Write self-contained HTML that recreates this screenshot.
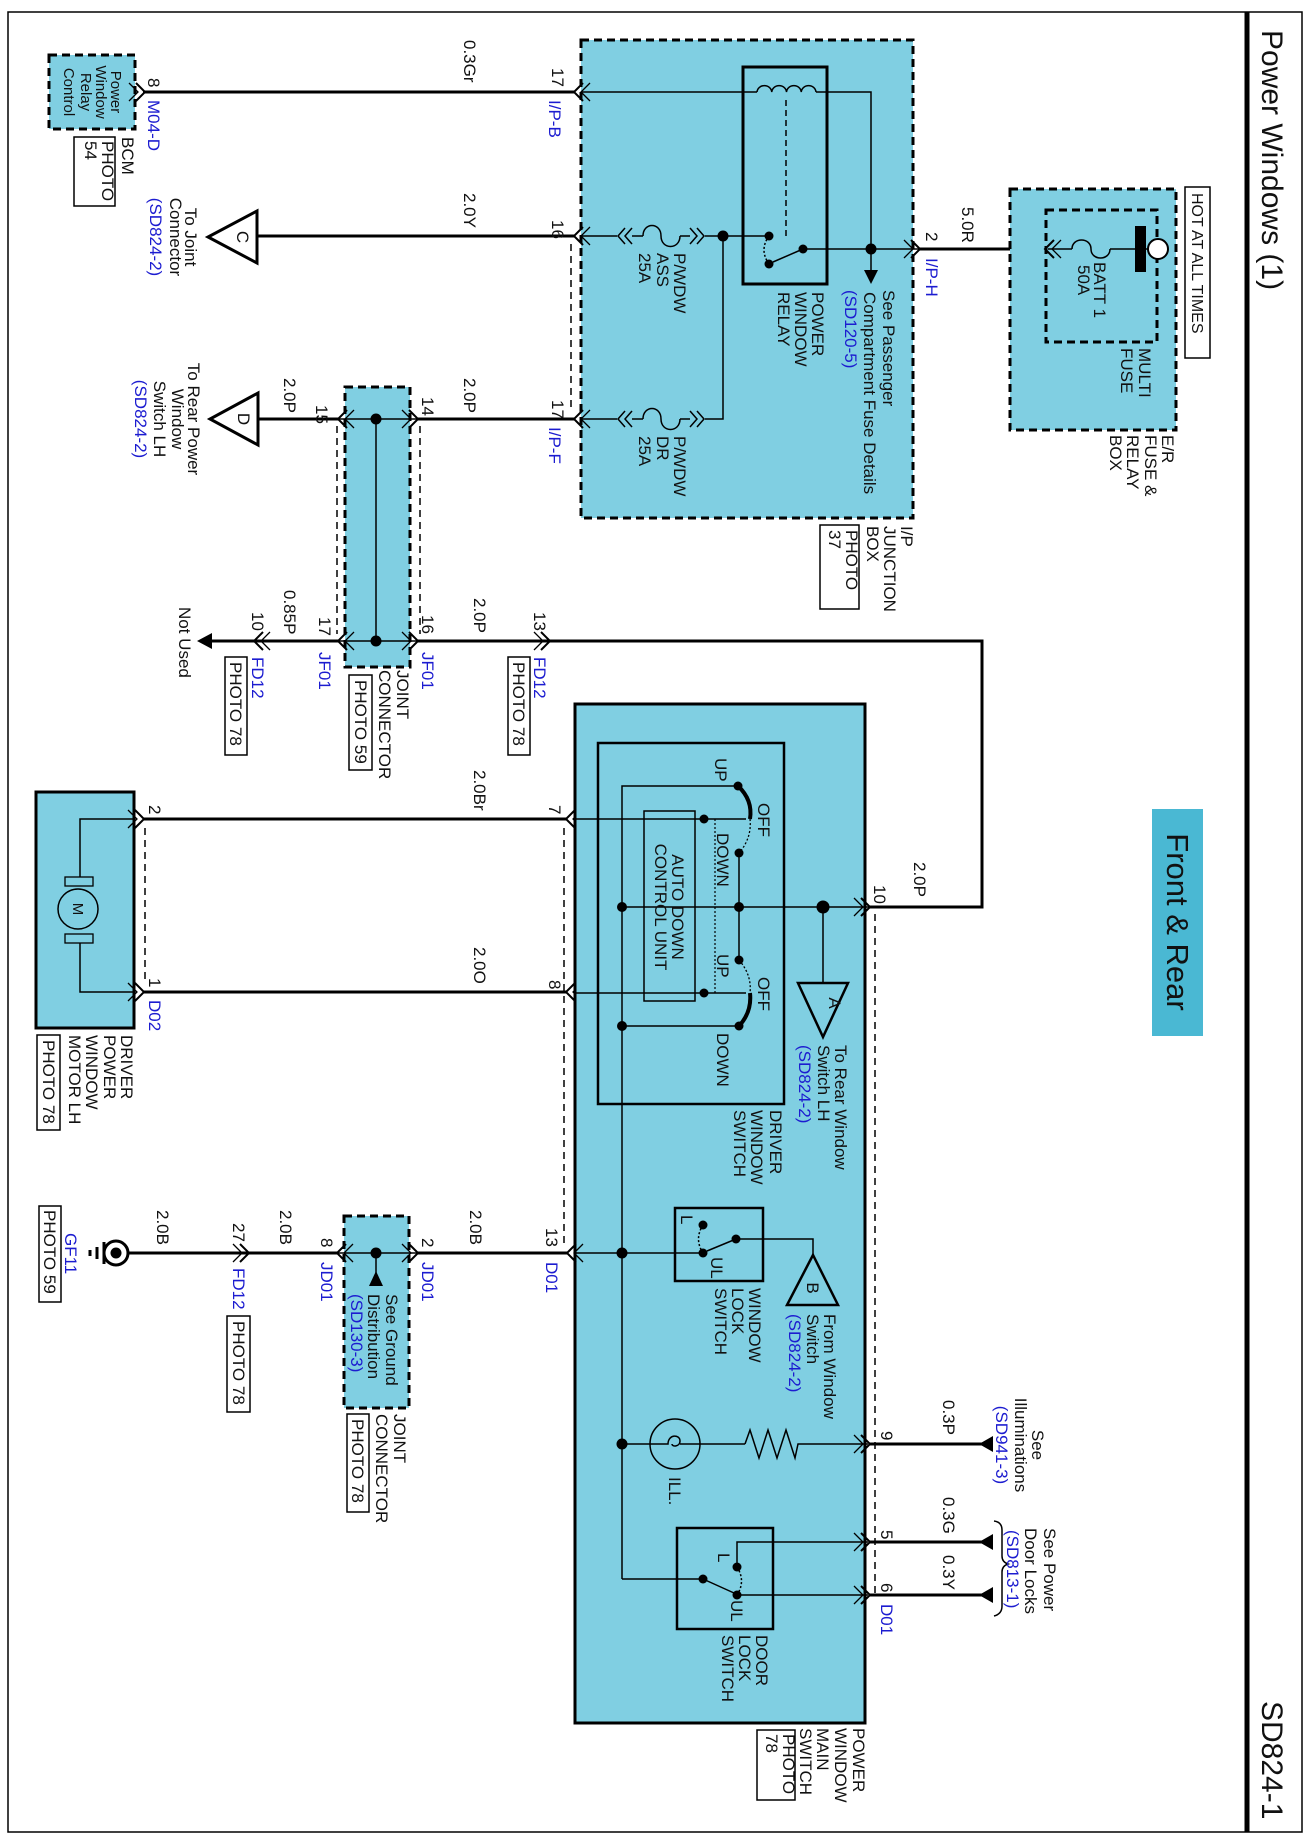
<!DOCTYPE html>
<html><head><meta charset="utf-8"><style>
html,body{margin:0;padding:0;background:#fff}
svg{display:block}
text{font-family:"Liberation Sans",Arial,sans-serif;font-size:17px;fill:#111}
.b{fill:#1c1cd0}
.s{font-size:15px}
.w{stroke:#000;stroke-width:3;fill:none}
.l{stroke:#000;stroke-width:1.5;fill:none}
.d{stroke:#000;stroke-width:3;stroke-dasharray:8 5}
.fl{fill:#80cfe2}
</style></head><body>
<svg width="1314" height="1839" viewBox="0 0 1314 1839" xmlns="http://www.w3.org/2000/svg">
<defs>
<g id="cl"><polyline points="9,-9 0,0 9,9" fill="none" stroke="#000" stroke-width="2"/><polyline points="16,-9 7,0 16,9" fill="none" stroke="#000" stroke-width="1.3"/></g>
<g id="cr"><polyline points="-9,-9 0,0 -9,9" fill="none" stroke="#000" stroke-width="2"/><polyline points="-16,-9 -7,0 -16,9" fill="none" stroke="#000" stroke-width="1.3"/></g>
</defs>
<rect x="0" y="0" width="1314" height="1839" fill="#fff"/>
<rect x="8" y="12" width="1294" height="1820" fill="none" stroke="#000" stroke-width="1.5"/>
<line x1="1247" y1="12" x2="1247" y2="1832" stroke="#000" stroke-width="5"/>
<text style="font-size:30px" transform="translate(1262,30) rotate(90)">Power Windows (1)</text>
<text style="font-size:30px" transform="translate(1262,1701) rotate(90)">SD824-1</text>

<!-- Front & Rear -->
<rect x="1152" y="809" width="51" height="227" fill="#4ab8d3"/>
<text style="font-size:31px" text-anchor="middle" transform="translate(1167,922) rotate(90)">Front &amp; Rear</text>

<!-- E/R box -->
<rect x="1010" y="189" width="166" height="241" class="fl d"/>
<rect x="1046" y="210" width="111" height="132" fill="none" class="d" stroke-width="2.5"/>
<line x1="1048" y1="249" x2="1072" y2="249" class="l"/>
<path d="M1072 249 C1072 237 1091 237 1091 249 C1091 261 1110 261 1110 249" class="l"/>
<line x1="1110" y1="249" x2="1150" y2="249" class="l"/>
<rect x="1135" y="226" width="11" height="46" fill="#000"/>
<circle cx="1158" cy="249" r="10" fill="#fff" stroke="#000" stroke-width="2"/>
<use href="#cl" x="1045" y="249"/>
<text transform="translate(1094,262) rotate(90)">BATT 1</text>
<text transform="translate(1078,265) rotate(90)">50A</text>
<text transform="translate(1139,348) rotate(90)">MULTI</text>
<text transform="translate(1121,348) rotate(90)">FUSE</text>
<rect x="1185" y="187" width="25" height="171" fill="#fff" stroke="#000" stroke-width="1.5"/>
<text style="font-size:16px" transform="translate(1192,193) rotate(90)">HOT AT ALL TIMES</text>
<text transform="translate(1162,435) rotate(90)">E/R</text>
<text transform="translate(1145,435) rotate(90)">FUSE &amp;</text>
<text transform="translate(1127,435) rotate(90)">RELAY</text>
<text transform="translate(1110,435) rotate(90)">BOX</text>

<line x1="918" y1="249" x2="1010" y2="249" class="w"/>
<text transform="translate(962,207) rotate(90)">5.0R</text>
<text transform="translate(926,232) rotate(90)">2</text>
<text class="b" transform="translate(926,258) rotate(90)">I/P-H</text>

<!-- I/P junction box -->
<rect x="581" y="40" width="332" height="478" class="fl d"/>
<rect x="743" y="67" width="84" height="217" fill="none" stroke="#000" stroke-width="3"/>
<line x1="581" y1="92" x2="757" y2="92" class="l"/>
<path d="M757 92 a7.4 7 0 0 1 14.75 0 a7.4 7 0 0 1 14.75 0 a7.4 7 0 0 1 14.75 0 a7.4 7 0 0 1 14.75 0" class="l"/>
<polyline points="816,92 871,92 871,272" class="l"/>
<polygon points="864,270 878,270 871,284" fill="#000"/>
<circle cx="871" cy="249" r="5.5" fill="#000"/>
<line x1="786" y1="100" x2="786" y2="240" class="l" stroke-dasharray="6 4"/>
<line x1="803" y1="249" x2="918" y2="249" class="l"/>
<circle cx="803" cy="249" r="4.5" fill="#000"/>
<line x1="803" y1="249" x2="773" y2="262" class="l"/>
<circle cx="769" cy="264" r="4.5" fill="#000"/>
<circle cx="769" cy="236" r="4.5" fill="#000"/>
<path d="M769 236 Q759 250 769 264" class="l" stroke-dasharray="2 2"/>
<line x1="582" y1="236" x2="617" y2="236" class="l"/>
<line x1="705" y1="236" x2="769" y2="236" class="l"/>
<circle cx="723" cy="236" r="5.5" fill="#000"/>
<polyline points="723,236 723,419 705,419" class="l"/>
<line x1="582" y1="419" x2="617" y2="419" class="l"/>
<path d="M643 236 C643 222 661 222 661 236 C661 250 680 250 680 236" class="l"/>
<path d="M643 419 C643 405 661 405 661 419 C661 433 680 433 680 419" class="l"/>
<line x1="632" y1="236" x2="643" y2="236" class="l"/><line x1="680" y1="236" x2="690" y2="236" class="l"/>
<line x1="632" y1="419" x2="643" y2="419" class="l"/><line x1="680" y1="419" x2="690" y2="419" class="l"/>
<polyline points="690,228 697,236 690,244" class="l"/><polyline points="697,228 704,236 697,244" class="l"/>
<polyline points="632,228 625,236 632,244" class="l"/><polyline points="625,228 618,236 625,244" class="l"/>
<polyline points="690,411 697,419 690,427" class="l"/><polyline points="697,411 704,419 697,427" class="l"/>
<polyline points="632,411 625,419 632,427" class="l"/><polyline points="625,411 618,419 625,427" class="l"/>
<text transform="translate(674,253) rotate(90)">P/WDW</text>
<text transform="translate(657,253) rotate(90)">ASS</text>
<text transform="translate(639,253) rotate(90)">25A</text>
<text transform="translate(674,436) rotate(90)">P/WDW</text>
<text transform="translate(657,436) rotate(90)">DR</text>
<text transform="translate(639,436) rotate(90)">25A</text>
<text transform="translate(883,290) rotate(90)">See Passenger</text>
<text transform="translate(864,292) rotate(90)">Compartment Fuse Details</text>
<text class="b" transform="translate(845,290) rotate(90)">(SD120-5)</text>
<text transform="translate(812,292) rotate(90)">POWER</text>
<text transform="translate(795,292) rotate(90)">WINDOW</text>
<text transform="translate(778,292) rotate(90)">RELAY</text>
<text transform="translate(901,526) rotate(90)">I/P</text>
<text transform="translate(884,526) rotate(90)">JUNCTION</text>
<text transform="translate(867,526) rotate(90)">BOX</text>
<rect x="820" y="525" width="39" height="84" fill="#fff" stroke="#000" stroke-width="1.5"/>
<text transform="translate(846,530) rotate(90)">PHOTO</text>
<text transform="translate(829,530) rotate(90)">37</text>

<!-- wires left of junction -->
<line x1="143" y1="92" x2="574" y2="92" class="w"/>
<line x1="257" y1="236" x2="574" y2="236" class="w"/>
<line x1="258" y1="419" x2="338" y2="419" class="w"/>
<line x1="418" y1="419" x2="574" y2="419" class="w"/>
<line x1="571" y1="244" x2="571" y2="412" stroke="#000" stroke-width="1.5" stroke-dasharray="7 5"/>
<use href="#cl" x="574" y="92"/><use href="#cl" x="574" y="236"/><use href="#cl" x="574" y="419"/>
<use href="#cr" x="920" y="249"/>
<text transform="translate(464,40) rotate(90)">0.3Gr</text>
<text transform="translate(552,68) rotate(90)">17</text>
<text class="b" transform="translate(549,100) rotate(90)">I/P-B</text>
<text transform="translate(464,193) rotate(90)">2.0Y</text>
<text transform="translate(552,220) rotate(90)">16</text>
<text transform="translate(464,378) rotate(90)">2.0P</text>
<text transform="translate(552,400) rotate(90)">17</text>
<text class="b" transform="translate(549,427) rotate(90)">I/P-F</text>

<!-- BCM -->
<rect x="49" y="55" width="86" height="74" class="fl d"/>
<text class="s" text-anchor="middle" transform="translate(111,92) rotate(90)">Power</text>
<text class="s" text-anchor="middle" transform="translate(96,92) rotate(90)">Window</text>
<text class="s" text-anchor="middle" transform="translate(81,92) rotate(90)">Relay</text>
<text class="s" text-anchor="middle" transform="translate(64,92) rotate(90)">Control</text>
<use href="#cr" x="145" y="92"/>
<text transform="translate(148,78) rotate(90)">8</text>
<text class="b" transform="translate(148,100) rotate(90)">M04-D</text>
<text transform="translate(122,137) rotate(90)">BCM</text>
<rect x="74" y="137" width="41" height="69" fill="#fff" stroke="#000" stroke-width="1.5"/>
<text transform="translate(102,141) rotate(90)">PHOTO</text>
<text transform="translate(85,141) rotate(90)">54</text>

<!-- triangles C, D -->
<polygon points="257,211 257,263 208,237" fill="#fff" stroke="#000" stroke-width="3"/>
<text text-anchor="middle" transform="translate(237,237) rotate(90)">C</text>
<text text-anchor="middle" transform="translate(185,237) rotate(90)">To Joint</text>
<text text-anchor="middle" transform="translate(170,237) rotate(90)">Connector</text>
<text class="b" text-anchor="middle" transform="translate(150,237) rotate(90)">(SD824-2)</text>
<polygon points="258,393 258,445 210,419" fill="#fff" stroke="#000" stroke-width="3"/>
<text text-anchor="middle" transform="translate(238,419) rotate(90)">D</text>
<text text-anchor="middle" transform="translate(188,419) rotate(90)">To Rear Power</text>
<text text-anchor="middle" transform="translate(172,419) rotate(90)">Window</text>
<text text-anchor="middle" transform="translate(154,419) rotate(90)">Switch LH</text>
<text class="b" text-anchor="middle" transform="translate(135,419) rotate(90)">(SD824-2)</text>
<text transform="translate(284,378) rotate(90)">2.0P</text>
<text transform="translate(316,405) rotate(90)">15</text>
<text transform="translate(422,397) rotate(90)">14</text>

<!-- JF01 -->
<rect x="345" y="387" width="65" height="280" class="fl d"/>
<line x1="337" y1="426" x2="337" y2="634" stroke="#000" stroke-width="1.5" stroke-dasharray="7 5"/>
<line x1="420" y1="426" x2="420" y2="634" stroke="#000" stroke-width="1.5" stroke-dasharray="7 5"/>
<line x1="376" y1="419" x2="376" y2="641" class="l"/>
<line x1="338" y1="419" x2="418" y2="419" class="l"/>
<line x1="338" y1="641" x2="418" y2="641" class="l"/>
<circle cx="376" cy="419" r="5.5" fill="#000"/><circle cx="376" cy="641" r="5.5" fill="#000"/>
<use href="#cl" x="338" y="419"/><use href="#cr" x="418" y="419"/>
<use href="#cl" x="338" y="641"/><use href="#cr" x="418" y="641"/>

<!-- row 641 -->
<line x1="208" y1="641" x2="338" y2="641" class="w"/>
<polyline points="418,641 982,641 982,907 868,907" class="w"/>
<polygon points="197,641 212,633 212,649" fill="#000"/>
<use href="#cl" x="254" y="641"/><use href="#cr" x="550" y="641"/>
<text transform="translate(179,607) rotate(90)">Not Used</text>
<text transform="translate(252,612) rotate(90)">10</text>
<text class="b" transform="translate(252,657) rotate(90)">FD12</text>
<rect x="225" y="657" width="22" height="98" fill="#fff" stroke="#000" stroke-width="1.5"/>
<text transform="translate(230,662) rotate(90)">PHOTO 78</text>
<text transform="translate(284,590) rotate(90)">0.85P</text>
<text transform="translate(319,617) rotate(90)">17</text>
<text class="b" transform="translate(319,652) rotate(90)">JF01</text>
<text transform="translate(422,615) rotate(90)">16</text>
<text class="b" transform="translate(422,652) rotate(90)">JF01</text>
<text transform="translate(397,670) rotate(90)">JOINT</text>
<text transform="translate(379,670) rotate(90)">CONNECTOR</text>
<rect x="349" y="675" width="23" height="95" fill="#fff" stroke="#000" stroke-width="1.5"/>
<text transform="translate(355,680) rotate(90)">PHOTO 59</text>
<text transform="translate(474,598) rotate(90)">2.0P</text>
<text transform="translate(534,612) rotate(90)">13</text>
<text class="b" transform="translate(534,657) rotate(90)">FD12</text>
<rect x="508" y="657" width="22" height="98" fill="#fff" stroke="#000" stroke-width="1.5"/>
<text transform="translate(513,662) rotate(90)">PHOTO 78</text>
<text transform="translate(914,862) rotate(90)">2.0P</text>
<text transform="translate(874,885) rotate(90)">10</text>

<!-- Motor -->
<rect x="36" y="792" width="98" height="236" class="fl" stroke="#000" stroke-width="3"/>
<polyline points="134,819 80,819 80,877" class="l"/>
<polyline points="134,992 80,992 80,943" class="l"/>
<rect x="65" y="877" width="28" height="9" fill="none" stroke="#000" stroke-width="1.3"/>
<rect x="65" y="934" width="28" height="9" fill="none" stroke="#000" stroke-width="1.3"/>
<circle cx="78" cy="909" r="20" class="fl" stroke="#000" stroke-width="1.5"/>
<text text-anchor="middle" style="font-size:15px" transform="translate(73,909) rotate(90)">M</text>
<line x1="144" y1="819" x2="566" y2="819" class="w"/>
<line x1="144" y1="992" x2="566" y2="992" class="w"/>
<use href="#cr" x="144" y="819"/><use href="#cr" x="144" y="992"/>
<use href="#cl" x="566" y="819"/><use href="#cl" x="566" y="992"/>
<line x1="145" y1="828" x2="145" y2="984" stroke="#000" stroke-width="1.5" stroke-dasharray="7 5"/>
<line x1="564" y1="828" x2="564" y2="1245" stroke="#000" stroke-width="1.5" stroke-dasharray="7 5"/>
<text transform="translate(149,805) rotate(90)">2</text>
<text transform="translate(149,978) rotate(90)">1</text>
<text class="b" transform="translate(149,1000) rotate(90)">D02</text>
<text transform="translate(474,770) rotate(90)">2.0Br</text>
<text transform="translate(474,947) rotate(90)">2.0O</text>
<text transform="translate(549,805) rotate(90)">7</text>
<text transform="translate(549,980) rotate(90)">8</text>
<text transform="translate(121,1035) rotate(90)">DRIVER</text>
<text transform="translate(104,1035) rotate(90)">POWER</text>
<text transform="translate(86,1035) rotate(90)">WINDOW</text>
<text transform="translate(69,1035) rotate(90)">MOTOR LH</text>
<rect x="37" y="1035" width="23" height="95" fill="#fff" stroke="#000" stroke-width="1.5"/>
<text transform="translate(43,1040) rotate(90)">PHOTO 78</text>

<!-- Main switch -->
<rect x="575" y="704" width="290" height="1019" class="fl" stroke="#000" stroke-width="3"/>
<line x1="875" y1="914" x2="875" y2="1595" stroke="#000" stroke-width="1.5" stroke-dasharray="7 5"/>
<rect x="598" y="743" width="186" height="361" fill="none" stroke="#000" stroke-width="2.5"/>
<rect x="644" y="811" width="51" height="190" fill="none" stroke="#000" stroke-width="1.5"/>
<line x1="575" y1="819" x2="746" y2="819" class="l"/>
<line x1="575" y1="993" x2="746" y2="993" class="l"/>
<circle cx="704" cy="819" r="4.5" fill="#000"/><circle cx="704" cy="993" r="4.5" fill="#000"/>
<polyline points="622,1579 622,786 738,786" class="l"/>
<line x1="622" y1="1579" x2="703" y2="1579" class="l"/>
<path d="M738 786 Q753 800 750 819" fill="none" stroke="#000" stroke-width="4"/>
<path d="M750 819 Q752 838 739 853" fill="none" stroke="#000" stroke-width="1.3" stroke-dasharray="2 2"/>
<line x1="739" y1="853" x2="739" y2="960" class="l"/>
<path d="M739 960 Q752 975 750 993" fill="none" stroke="#000" stroke-width="1.3" stroke-dasharray="2 2"/>
<path d="M750 993 Q752 1012 739 1026" fill="none" stroke="#000" stroke-width="4"/>
<line x1="622" y1="1026" x2="739" y2="1026" class="l"/>
<line x1="622" y1="907" x2="868" y2="907" class="l"/>
<line x1="715" y1="819" x2="715" y2="993" stroke="#000" stroke-width="1.2" stroke-dasharray="2 2"/>
<g fill="#000">
<circle cx="738" cy="786" r="4.5"/><circle cx="739" cy="853" r="4.5"/><circle cx="739" cy="907" r="5"/><circle cx="739" cy="960" r="4.5"/><circle cx="739" cy="1026" r="4.5"/>
<circle cx="622" cy="907" r="5"/><circle cx="622" cy="1026" r="5"/><circle cx="823" cy="907" r="6.5"/>
<circle cx="622" cy="1253" r="5.5"/><circle cx="622" cy="1444" r="5.5"/>
</g>
<line x1="823" y1="907" x2="823" y2="983" class="l"/>
<polygon points="798,983 848,983 823,1037" fill="none" stroke="#000" stroke-width="2.5"/>
<text text-anchor="middle" transform="translate(829,1003) rotate(90)">A</text>
<use href="#cr" x="870" y="907"/>
<text transform="translate(715,758) rotate(90)">UP</text>
<text transform="translate(758,803) rotate(90)">OFF</text>
<text transform="translate(717,833) rotate(90)">DOWN</text>
<text text-anchor="middle" transform="translate(672,907) rotate(90)">AUTO DOWN</text>
<text text-anchor="middle" transform="translate(655,907) rotate(90)">CONTROL UNIT</text>
<text transform="translate(717,954) rotate(90)">UP</text>
<text transform="translate(758,977) rotate(90)">OFF</text>
<text transform="translate(717,1033) rotate(90)">DOWN</text>
<text transform="translate(835,1045) rotate(90)">To Rear Window</text>
<text transform="translate(818,1045) rotate(90)">Switch LH</text>
<text class="b" transform="translate(799,1045) rotate(90)">(SD824-2)</text>
<text transform="translate(770,1110) rotate(90)">DRIVER</text>
<text transform="translate(751,1110) rotate(90)">WINDOW</text>
<text transform="translate(734,1110) rotate(90)">SWITCH</text>

<!-- bottom ground row -->
<line x1="128" y1="1253" x2="337" y2="1253" class="w"/>
<line x1="418" y1="1253" x2="567" y2="1253" class="w"/>
<circle cx="116" cy="1253" r="12" fill="#fff" stroke="#000" stroke-width="3"/>
<circle cx="116" cy="1253" r="5.5" fill="#000"/>
<line x1="104" y1="1242" x2="104" y2="1264" stroke="#000" stroke-width="3"/>
<line x1="97" y1="1247" x2="97" y2="1259" stroke="#000" stroke-width="3"/>
<line x1="90" y1="1250" x2="90" y2="1256" stroke="#000" stroke-width="3"/>
<rect x="344" y="1216" width="65" height="192" class="fl d"/>
<line x1="337" y1="1253" x2="418" y2="1253" class="l"/>
<circle cx="376" cy="1253" r="5.5" fill="#000"/>
<line x1="376" y1="1253" x2="376" y2="1273" class="l"/>
<polygon points="376,1271 369,1286 383,1286" fill="#000"/>
<use href="#cr" x="249" y="1253"/><use href="#cl" x="337" y="1253"/><use href="#cr" x="418" y="1253"/><use href="#cl" x="567" y="1253"/>
<text transform="translate(386,1294) rotate(90)">See Ground</text>
<text transform="translate(368,1294) rotate(90)">Distribution</text>
<text class="b" transform="translate(351,1294) rotate(90)">(SD130-3)</text>
<text transform="translate(394,1414) rotate(90)">JOINT</text>
<text transform="translate(376,1414) rotate(90)">CONNECTOR</text>
<rect x="347" y="1414" width="22" height="98" fill="#fff" stroke="#000" stroke-width="1.5"/>
<text transform="translate(352,1419) rotate(90)">PHOTO 78</text>
<text transform="translate(157,1210) rotate(90)">2.0B</text>
<text transform="translate(233,1223) rotate(90)">27</text>
<text class="b" transform="translate(233,1268) rotate(90)">FD12</text>
<rect x="227" y="1316" width="23" height="96" fill="#fff" stroke="#000" stroke-width="1.5"/>
<text transform="translate(233,1321) rotate(90)">PHOTO 78</text>
<text transform="translate(280,1210) rotate(90)">2.0B</text>
<text transform="translate(321,1238) rotate(90)">8</text>
<text class="b" transform="translate(321,1262) rotate(90)">JD01</text>
<text transform="translate(422,1238) rotate(90)">2</text>
<text class="b" transform="translate(422,1262) rotate(90)">JD01</text>
<text transform="translate(470,1210) rotate(90)">2.0B</text>
<text transform="translate(546,1228) rotate(90)">13</text>
<text class="b" transform="translate(546,1262) rotate(90)">D01</text>
<text class="b" transform="translate(65,1233) rotate(90)">GF11</text>
<rect x="39" y="1206" width="22" height="96" fill="#fff" stroke="#000" stroke-width="1.5"/>
<text transform="translate(44,1210) rotate(90)">PHOTO 59</text>

<!-- window lock switch -->
<rect x="675" y="1208" width="88" height="73" fill="none" stroke="#000" stroke-width="2.5"/>
<line x1="575" y1="1253" x2="703" y2="1253" class="l"/>
<circle cx="703" cy="1253" r="4.5" fill="#000"/>
<circle cx="703" cy="1225" r="4.5" fill="#000"/>
<circle cx="736" cy="1239" r="4.5" fill="#000"/>
<line x1="736" y1="1239" x2="707" y2="1251" class="l"/>
<path d="M703 1225 Q694 1239 703 1253" class="l" stroke-dasharray="2 2"/>
<polyline points="736,1239 813,1239 813,1255" class="l"/>
<polygon points="813,1255 787,1305 838,1305" fill="none" stroke="#000" stroke-width="2.5"/>
<text text-anchor="middle" transform="translate(807,1288) rotate(90)">B</text>
<text transform="translate(681,1215) rotate(90)">L</text>
<text transform="translate(711,1257) rotate(90)">UL</text>
<text transform="translate(749,1288) rotate(90)">WINDOW</text>
<text transform="translate(732,1288) rotate(90)">LOCK</text>
<text transform="translate(715,1288) rotate(90)">SWITCH</text>
<text transform="translate(824,1314) rotate(90)">From Window</text>
<text transform="translate(807,1314) rotate(90)">Switch</text>
<text class="b" transform="translate(789,1314) rotate(90)">(SD824-2)</text>

<!-- ILL -->
<line x1="622" y1="1444" x2="650" y2="1444" class="l"/>
<circle cx="675" cy="1444" r="25" fill="none" stroke="#000" stroke-width="1.5"/>
<path d="M650 1444 L668 1444 C668 1434 680 1434 680 1441 C680 1447 672 1447 672 1444 M680 1444 L700 1444" class="l"/>
<line x1="700" y1="1444" x2="745" y2="1444" class="l"/>
<polyline points="745,1444 750,1430 759,1458 768,1430 777,1458 786,1430 795,1458 798,1444 868,1444" class="l"/>
<text transform="translate(669,1477) rotate(90)">ILL.</text>
<line x1="870" y1="1444" x2="982" y2="1444" class="w"/>
<polygon points="979,1444 993,1436 993,1452" fill="#000"/>
<use href="#cr" x="870" y="1444"/>
<text transform="translate(881,1431) rotate(90)">9</text>
<text transform="translate(943,1400) rotate(90)">0.3P</text>
<text text-anchor="middle" transform="translate(1032,1445) rotate(90)">See</text>
<text text-anchor="middle" transform="translate(1015,1445) rotate(90)">Illuminations</text>
<text class="b" text-anchor="middle" transform="translate(996,1445) rotate(90)">(SD941-3)</text>

<!-- door lock switch -->
<rect x="677" y="1528" width="96" height="101" fill="none" stroke="#000" stroke-width="2.5"/>
<circle cx="703" cy="1579" r="4.5" fill="#000"/>
<line x1="703" y1="1579" x2="734" y2="1593" class="l"/>
<circle cx="737" cy="1595" r="4.5" fill="#000"/>
<circle cx="737" cy="1567" r="4.5" fill="#000"/>
<path d="M737 1567 Q746 1581 737 1595" class="l" stroke-dasharray="2 2"/>
<polyline points="737,1567 737,1542 868,1542" class="l"/>
<line x1="737" y1="1595" x2="868" y2="1595" class="l"/>
<text transform="translate(718,1553) rotate(90)">L</text>
<text transform="translate(731,1600) rotate(90)">UL</text>
<text transform="translate(756,1635) rotate(90)">DOOR</text>
<text transform="translate(739,1635) rotate(90)">LOCK</text>
<text transform="translate(722,1635) rotate(90)">SWITCH</text>
<line x1="870" y1="1542" x2="982" y2="1542" class="w"/>
<line x1="870" y1="1595" x2="982" y2="1595" class="w"/>
<polygon points="979,1542 993,1534 993,1550" fill="#000"/>
<polygon points="979,1595 993,1587 993,1603" fill="#000"/>
<use href="#cr" x="870" y="1542"/><use href="#cr" x="870" y="1595"/>
<text transform="translate(881,1530) rotate(90)">5</text>
<text transform="translate(881,1583) rotate(90)">6</text>
<text class="b" transform="translate(881,1604) rotate(90)">D01</text>
<text transform="translate(943,1497) rotate(90)">0.3G</text>
<text transform="translate(943,1555) rotate(90)">0.3Y</text>
<path d="M994 1521 Q1002 1522 1002 1530 L1002 1556 Q1002 1562 1008 1564 Q1002 1566 1002 1572 L1002 1606 Q1002 1614 994 1616" class="l"/>
<text transform="translate(1044,1528) rotate(90)">See Power</text>
<text transform="translate(1025,1528) rotate(90)">Door Locks</text>
<text class="b" transform="translate(1007,1530) rotate(90)">(SD813-1)</text>

<text transform="translate(853,1728) rotate(90)">POWER</text>
<text transform="translate(835,1728) rotate(90)">WINDOW</text>
<text transform="translate(817,1728) rotate(90)">MAIN</text>
<text transform="translate(800,1728) rotate(90)">SWITCH</text>
<rect x="757" y="1730" width="38" height="70" fill="#fff" stroke="#000" stroke-width="1.5"/>
<text transform="translate(783,1734) rotate(90)">PHOTO</text>
<text transform="translate(766,1734) rotate(90)">78</text>
</svg>
</body></html>
